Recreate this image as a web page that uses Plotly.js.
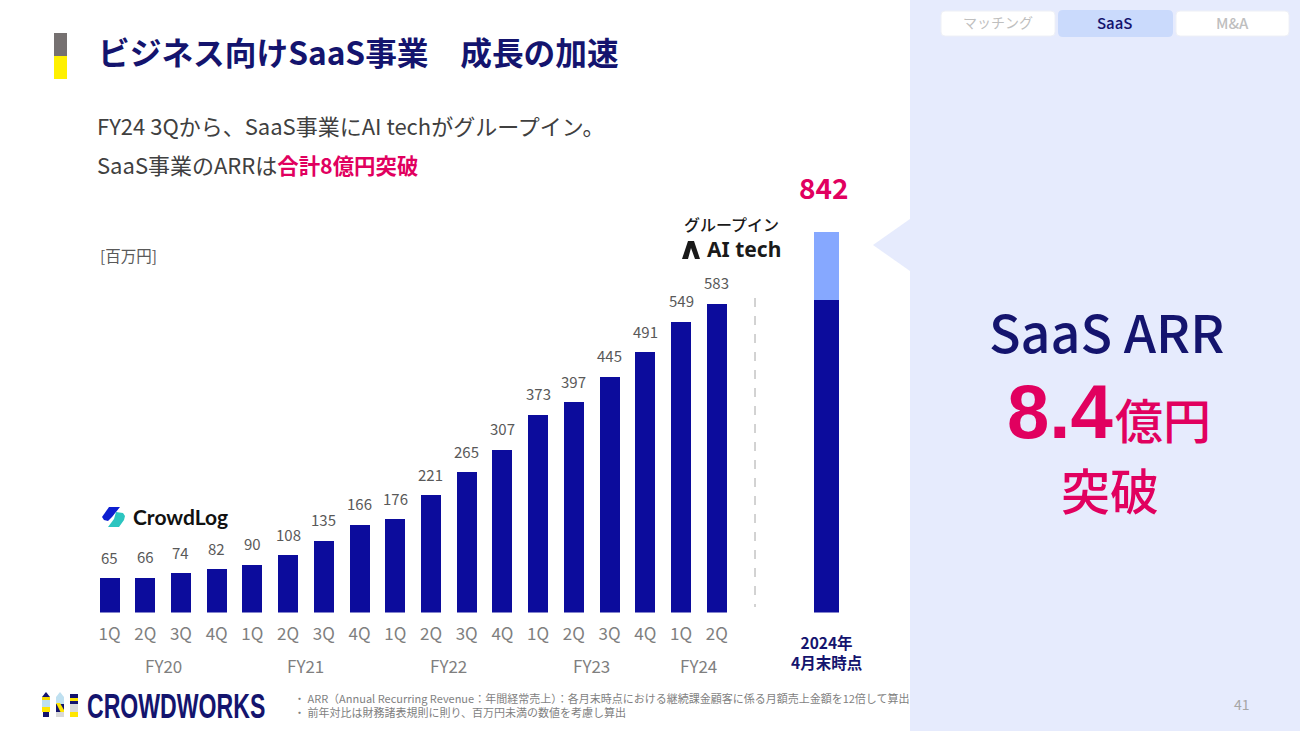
<!DOCTYPE html>
<html><head><meta charset="utf-8">
<script src="https://cdn.plot.ly/plotly-3.0.1.min.js"></script>
<style>html,body{margin:0;padding:0;background:#fff}#c{width:1300px;height:731px}</style>
</head><body><div id="c"></div>
<script>
// Data
const quarterLabels = ['1Q','2Q','3Q','4Q','1Q','2Q','3Q','4Q','1Q','2Q','3Q','4Q','1Q','2Q','3Q','4Q','1Q','2Q'];
const arrValues = [65,66,74,82,90,108,135,166,176,221,265,307,373,397,445,491,549,583];
const fyLabels = ['FY20','FY21','FY22','FY23','FY24'];
const fyCenters = [1.5,5.5,9.5,13.5,16.5];
const totalLabel = 842;
const totalDark = 692;
const totalLight = 150;
const totalPos = 20.07;

const W=1300,H=731;
const FONT='"Noto Sans CJK JP","Noto Sans",sans-serif';
const NAVY='#14146E',PINK='#E1005F',BAR='#0C0C9C',LIGHT='#86A8FF',GRAY='#595959',TICK='#7F7F7F',PANEL='#E6EBFD';
const X=p=>p/W, Y=p=>1-p/H;

const xs=arrValues.map((_,i)=>i);
const traces=[
 {type:'bar',x:xs,y:arrValues,width:0.56,marker:{color:BAR},hoverinfo:'skip',showlegend:false},
 {type:'bar',x:[totalPos],y:[totalDark],width:0.7,marker:{color:BAR},yaxis:'y2',hoverinfo:'skip',showlegend:false},
 {type:'bar',x:[totalPos],y:[totalLight],width:0.7,marker:{color:LIGHT},yaxis:'y2',hoverinfo:'skip',showlegend:false}
];

function rrect(x0,y0,x1,y1,r){
 const a=X,b=Y;
 return `M${a(x0+r)},${b(y0)} L${a(x1-r)},${b(y0)} Q${a(x1)},${b(y0)} ${a(x1)},${b(y0+r)} L${a(x1)},${b(y1-r)} Q${a(x1)},${b(y1)} ${a(x1-r)},${b(y1)} L${a(x0+r)},${b(y1)} Q${a(x0)},${b(y1)} ${a(x0)},${b(y1-r)} L${a(x0)},${b(y0+r)} Q${a(x0)},${b(y0)} ${a(x0+r)},${b(y0)} Z`;
}
const poly=pts=>'M'+pts.map(p=>`${X(p[0])},${Y(p[1])}`).join(' L')+' Z';
const sp=(path,fill,line)=>({type:'path',xref:'paper',yref:'paper',path,fillcolor:fill,line:line||{width:0},layer:'below'});
const rect=(x0,y0,x1,y1,fill)=>({type:'rect',xref:'paper',yref:'paper',x0:X(x0),x1:X(x1),y0:Y(y0),y1:Y(y1),fillcolor:fill,line:{width:0},layer:'below'});

const shapes=[
 rect(910,0,1300,731,PANEL),
 sp(poly([[873,245],[910,219],[910,271]]),PANEL),
 rect(54,33,67,56,'#767171'),
 rect(54,56,67,79,'#FFF000'),
 sp(rrect(941,11,1055,36,4),'#FFFFFF',{color:'#EEF0F6',width:1}),
 sp(rrect(1058,10,1173,37,5),'#CADAFC'),
 sp(rrect(1176,11,1289,36,4),'#FFFFFF',{color:'#EEF0F6',width:1}),
 {type:'line',xref:'paper',yref:'paper',x0:X(755),x1:X(755),y0:Y(298),y1:Y(607),line:{color:'#A6A6A6',width:1,dash:'dash'},layer:'below'},
 // CrowdLog icon
 sp(poly([[109,507],[120,507],[112,517],[108,521],[104,520],[102,517]]),'#0C1ED0'),
 sp(poly([[116,512],[123,513],[125,516],[124,520],[119,527],[108,527],[114,519]]),'#2CC5C0'),
 // AI tech icon
 sp(poly([[682,259],[688,241],[694,241],[700,259],[695,259],[691,248],[688,259]]),'#1A1A1A'),
 // CROWDWORKS icon
 sp(poly([[46,692],[50,697],[42,697]]),NAVY),
 rect(42,697,50,700,'#F5D800'),rect(42,700,50,707,'#BFE0F0'),rect(42,707,50,712,'#FFE600'),rect(43,712,49,717,NAVY),
 sp(poly([[60,692],[64,697],[56,697]]),'#BFE0F0'),
 rect(56,697,64,704,'#BFE0F0'),rect(56,704,64,712,NAVY),sp(poly([[56,703],[60,703],[64,710],[64,713],[61,713]]),'#FFE600'),rect(56,712,64,717,'#D9D9D9'),
 rect(70,694,78,698,NAVY),rect(70,698,78,701,'#FFE600'),rect(70,701,78,704,NAVY),rect(70,704,78,712,'#D9D9D9'),rect(70,712,78,717,'#FFE600')
];

const t=(x,y,text,size,color,anchor,extra)=>{
 const e=extra||{};
 return Object.assign({xref:'paper',yref:'paper',x:X(x),y:Y(y),text,showarrow:false,
  xanchor:anchor||'center',yanchor:'middle',font:{family:e.family||FONT,size,color,weight:e.weight||400},align:anchor||'center'},e.height?{height:e.height}:{});
};
const M={weight:500};

const annotations=[
 t(96,51,'ビジネス向けSaaS事業　成長の加速',31.7,NAVY,'left',{weight:700}),
 t(95,125,'FY24 3Qから、SaaS事業にAI techがグループイン。',22,'#404040','left'),
 t(95,164,`SaaS事業のARRは<span style="color:${PINK};font-size:21.4px"><b>合計8億円突破</b></span>`,22,'#404040','left'),
 t(98,255,'[百万円]',15.5,GRAY,'left'),
 t(824,187,String(totalLabel),28,PINK,'center',{weight:700}),
 t(732,224,'グループイン',16,'#1A1A1A','center',M),
 t(705,249,'AI tech',21,'#1A1A1A','left',{family:'"Noto Sans",sans-serif',weight:700}),
 t(131,516,'CrowdLog',21,'#111111','left',{family:'Lato,sans-serif',weight:700}),
 t(826,652,'2024年<br>4月末時点',15.5,NAVY,'center',{weight:700}),
 t(85,705,'CROWDWORKS',35,NAVY,'left',{family:'"Liberation Sans",sans-serif',weight:700}),
 t(292,705,'・ ARR（Annual Recurring Revenue：年間経常売上）：各月末時点における継続課金顧客に係る月額売上金額を12倍して算出<br>・ 前年対比は財務諸表規則に則り、百万円未満の数値を考慮し算出',11,TICK,'left'),
 t(998,22,'マッチング',14,'#BFBFBF'),
 t(1115,22,'SaaS',15,NAVY,'center',M),
 t(1232,22,'M&amp;A',15,'#BFBFBF','center',M),
 t(1106,330,'SaaS ARR',52,NAVY,'center',M),
 t(1060,411,'8.4',76,PINK,'center',{family:'"Liberation Sans",sans-serif',weight:700}),
 t(1163,418,'億円',48,PINK,'center',M),
 t(1110,488,'突破',49,PINK,'center',{weight:500,height:56}),
 t(1242,704,'41',14,'#A6A6A6')
];
fyLabels.forEach((f,i)=>annotations.push({xref:'x',yref:'paper',x:fyCenters[i],y:Y(665),text:f,showarrow:false,
  xanchor:'center',yanchor:'middle',font:{family:FONT,size:17,color:TICK}}));
arrValues.forEach((v,i)=>annotations.push({xref:'x',yref:'y',x:xs[i],y:v,yshift:21,text:String(v),showarrow:false,
  xanchor:'center',yanchor:'middle',font:{family:FONT,size:15,color:GRAY}}));

const layout={
 width:W,height:H,margin:{l:0,r:0,t:0,b:0},paper_bgcolor:'#fff',plot_bgcolor:'rgba(0,0,0,0)',showlegend:false,
 barmode:'stack',
 xaxis:{domain:[X(91.65),X(859.6)],range:[-0.5,21],tickmode:'array',tickvals:xs,ticktext:quarterLabels,
  tickfont:{family:FONT,size:17,color:TICK},ticks:'',showgrid:false,zeroline:false,showline:false,ticklabelstandoff:9},
 yaxis:{domain:[Y(612.5),Y(212)],range:[0,755.7],visible:false},
 yaxis2:{domain:[Y(612.5),Y(212)],range:[0,887],visible:false,overlaying:'y',side:'right'},
 shapes,annotations
};
Plotly.newPlot('c',traces,layout,{staticPlot:true,displayModeBar:false}).then(()=>{
 document.querySelectorAll('.annotation-text').forEach(el=>{
  if(el.textContent==='CROWDWORKS'){
   el.style.transformBox='fill-box';el.style.transformOrigin='left center';el.style.transform='scaleX(0.66)';
  }
 });
});
</script></body></html>
